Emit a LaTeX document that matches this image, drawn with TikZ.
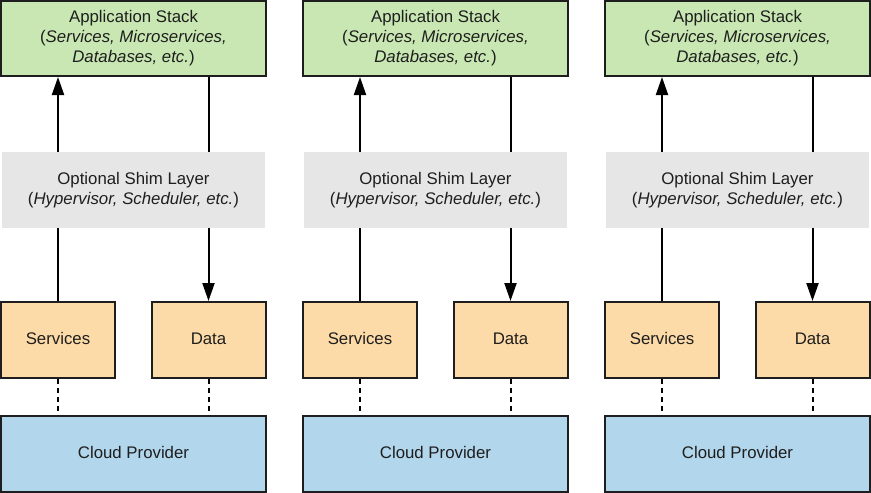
\documentclass[tikz,border=0pt]{standalone}
\usepackage{fontspec}
\setmainfont{Liberation Sans}
\usetikzlibrary{arrows.meta}
\definecolor{appgreen}{RGB}{200,231,178}
\definecolor{shimgray}{RGB}{230,230,230}
\definecolor{svcorange}{RGB}{253,219,168}
\definecolor{cloudblue}{RGB}{178,214,236}
\definecolor{ink}{RGB}{30,30,30}
\begin{document}
\begin{tikzpicture}[x=1pt,y=-1pt,
    font=\fontsize{16.8}{20}\selectfont, text=ink,
    box/.style={draw=ink,line width=2pt,align=center,inner sep=0pt},
    app/.style={box,fill=appgreen,minimum width=265pt,minimum height=75pt},
    shim/.style={fill=shimgray,align=center,inner sep=0pt,minimum width=263pt,minimum height=76pt},
    part/.style={box,fill=svcorange,minimum width=114pt,minimum height=76pt,text height=12pt,text depth=3pt},
    cloud/.style={box,fill=cloudblue,minimum width=265pt,minimum height=76pt,text height=12pt,text depth=3pt},
    link/.style={draw=black,line width=2pt},
    flow/.style={link,-{Triangle[length=18pt,width=12pt]}},
    tie/.style={link,dash pattern=on 5pt off 4pt}]
    \useasboundingbox (0,0) rectangle (871,493);
    \foreach \i/\dx in {1/0,2/302,3/604} {
      \node[app] (app\i) at (133.5+\dx,38.5)
        {Application Stack\\(\textit{Services, Microservices,}\\\textit{Databases, etc.})};
      \node[part] (svc\i) at (58+\dx,340) {Services};
      \node[part] (data\i) at (208.5+\dx,340) {Data};
      \node[cloud] (cloud\i) at (133.5+\dx,454) {Cloud Provider};
      \draw[flow] (svc\i.north) -- (svc\i |- app\i.south);
      \draw[flow] (data\i |- app\i.south) -- (data\i.north);
      \draw[tie] (svc\i.south) -- (svc\i |- cloud\i.north);
      \draw[tie] (data\i.south) -- (data\i |- cloud\i.north);
      \node[shim] (shim\i) at (133.5+\dx,190)
        {Optional Shim Layer\\(\textit{Hypervisor, Scheduler, etc.})};
    }
\end{tikzpicture}
\end{document}
